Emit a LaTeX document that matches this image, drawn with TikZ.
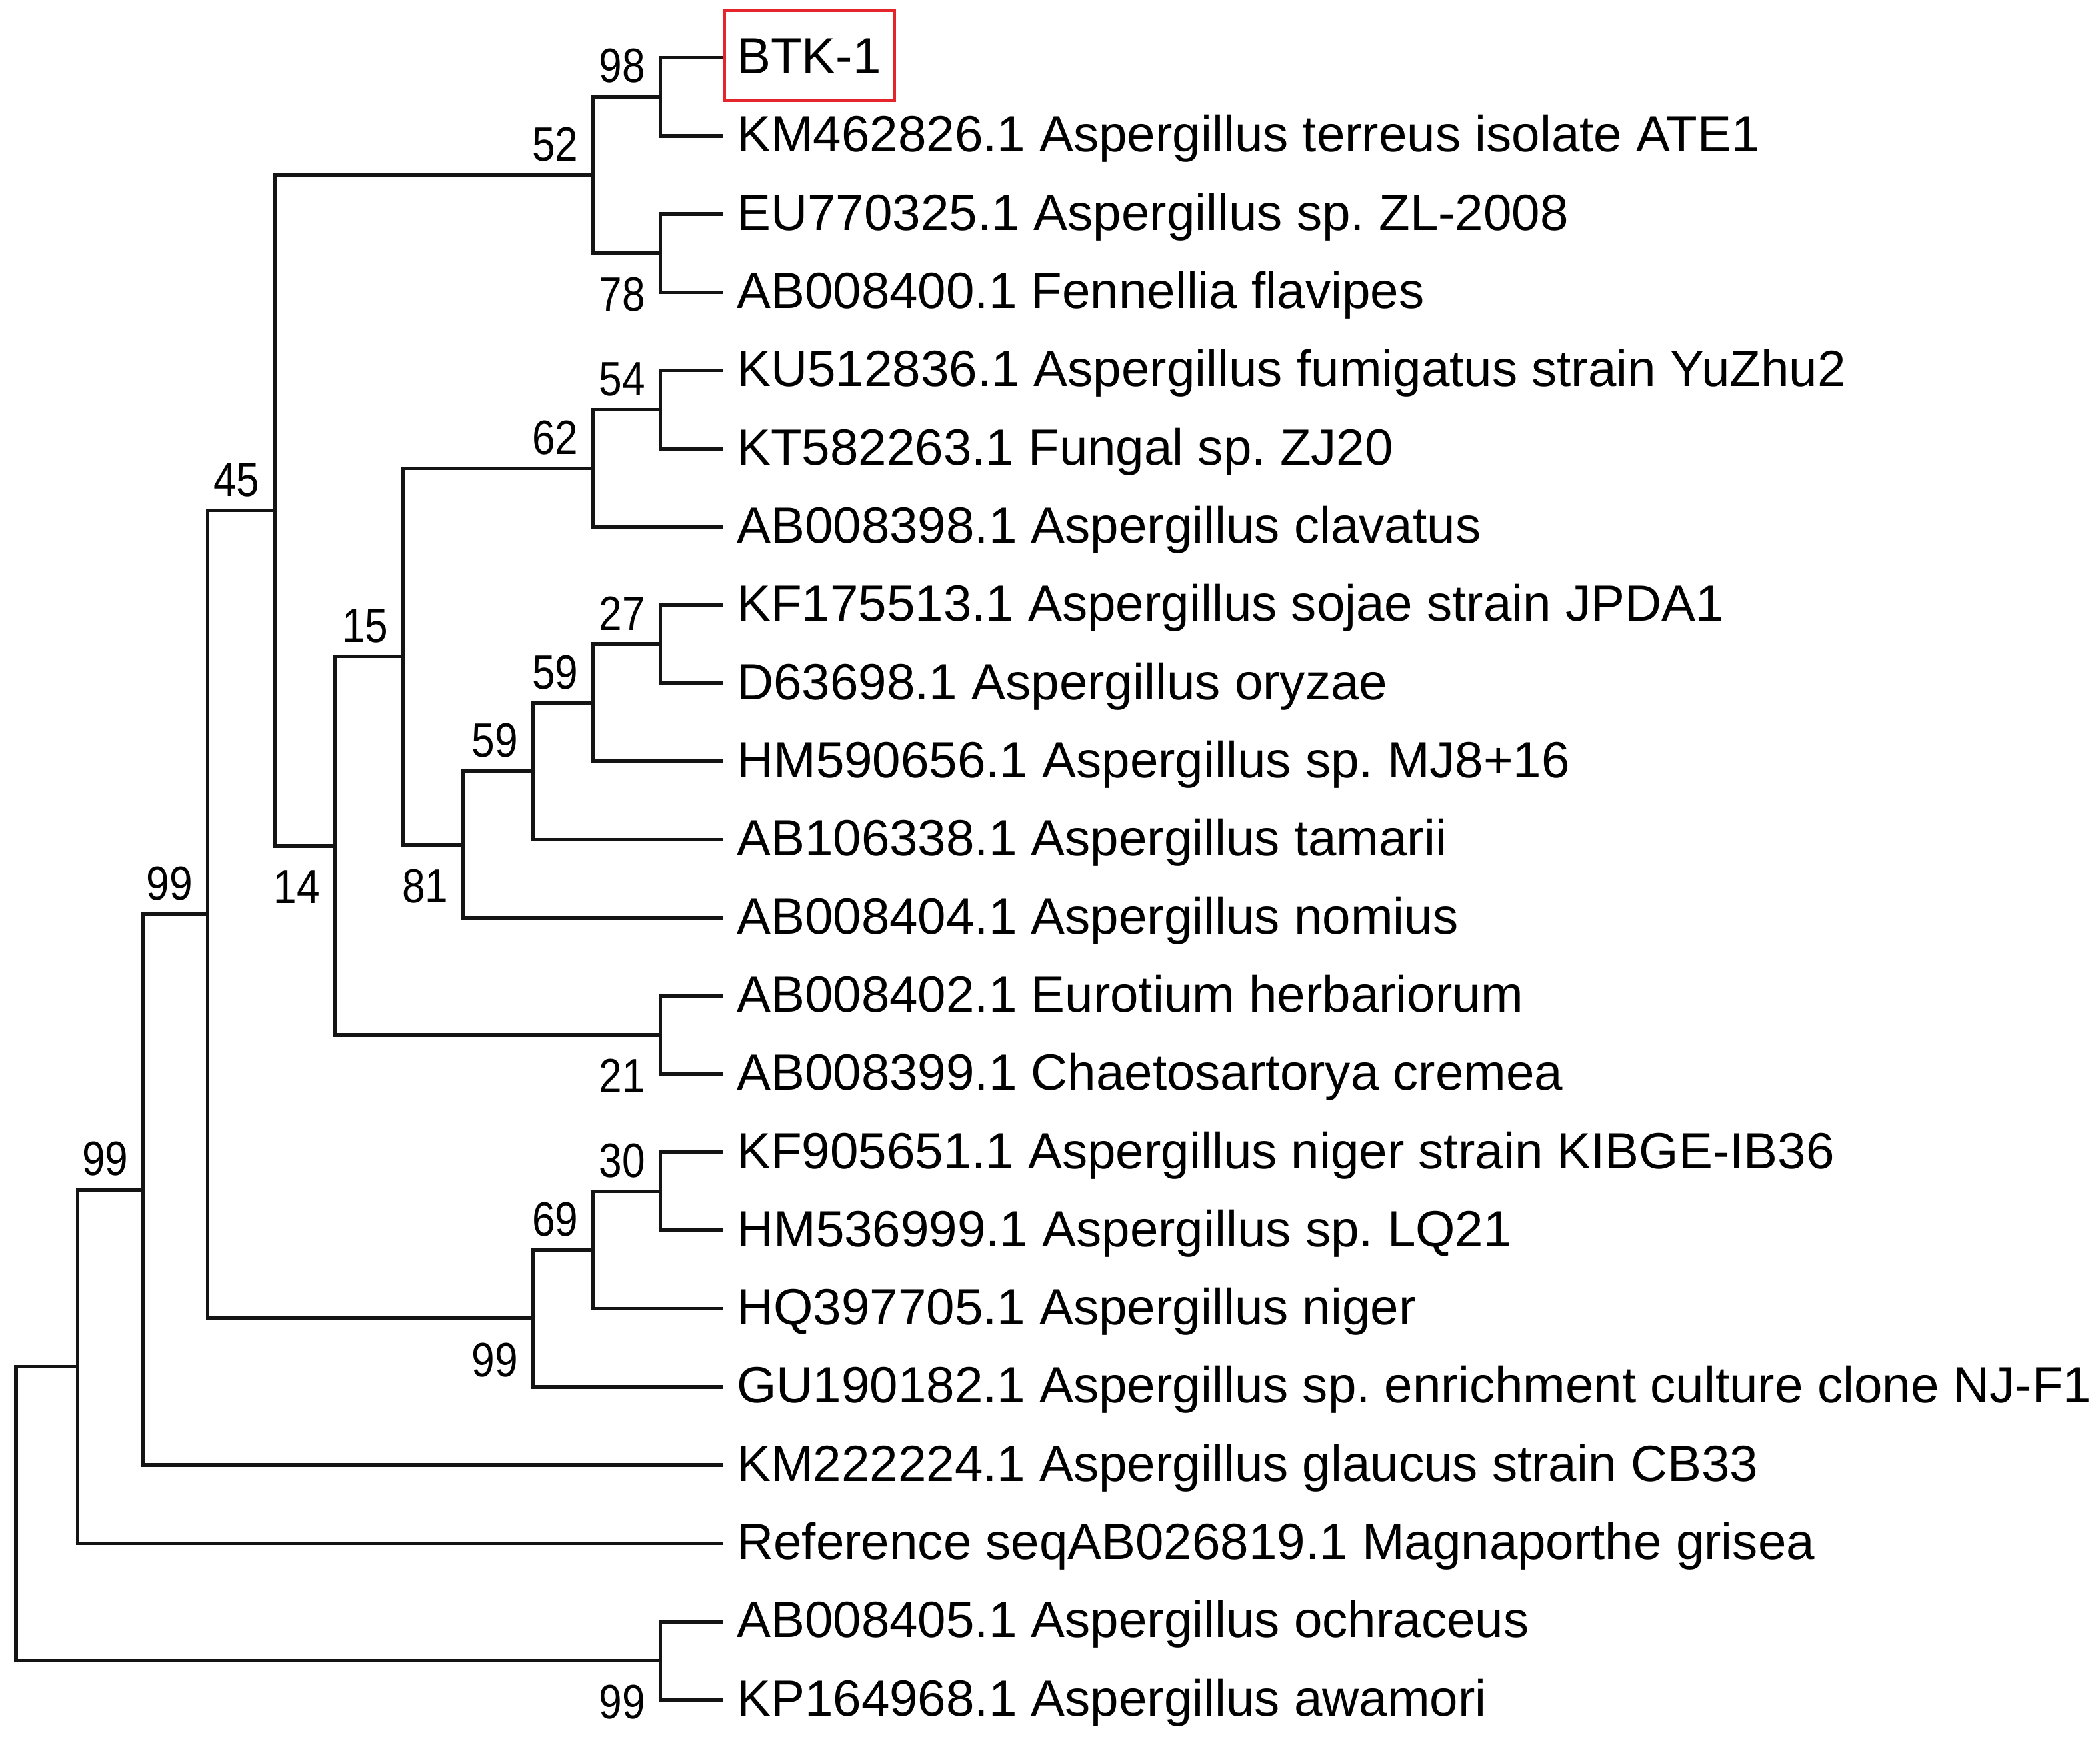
\documentclass[tikz,border=0pt]{standalone}
\usepackage{fontspec}
\setmainfont{Liberation Sans}
\newfontfamily\bsfont[FakeStretch=0.86]{Liberation Sans}
\usetikzlibrary{calc}
\definecolor{boxred}{RGB}{228,38,44}
\frenchspacing
\begin{document}
\frenchspacing
\begin{tikzpicture}[x=1pt,y=-1pt,
  br/.style={line width=2.8pt,draw=black!92},
  leaf/.style={anchor=base west,inner sep=0pt,font=\fontsize{38}{40}\selectfont},
  bsa/.style={anchor=south east,inner sep=0pt,font=\bsfont\fontsize{36}{38}\selectfont},
  bsb/.style={anchor=north east,inner sep=0pt,font=\bsfont\fontsize{36}{38}\selectfont}]
\useasboundingbox (0,0) rectangle (1568,1300);
% leaves
\foreach \t [count=\i] in {BTK-1,
  KM462826.1 Aspergillus terreus isolate ATE1,
  EU770325.1 Aspergillus sp. ZL-2008,
  AB008400.1 Fennellia flavipes,
  KU512836.1 Aspergillus fumigatus strain YuZhu2,
  KT582263.1 Fungal sp. ZJ20,
  AB008398.1 Aspergillus clavatus,
  KF175513.1 Aspergillus sojae strain JPDA1,
  D63698.1 Aspergillus oryzae,
  HM590656.1 Aspergillus sp. MJ8+16,
  AB106338.1 Aspergillus tamarii,
  AB008404.1 Aspergillus nomius,
  AB008402.1 Eurotium herbariorum,
  AB008399.1 Chaetosartorya cremea,
  KF905651.1 Aspergillus niger strain KIBGE-IB36,
  HM536999.1 Aspergillus sp. LQ21,
  HQ397705.1 Aspergillus niger,
  GU190182.1 Aspergillus sp. enrichment culture clone NJ-F1,
  KM222224.1 Aspergillus glaucus strain CB33,
  Reference seqAB026819.1 Magnaporthe grisea,
  AB008405.1 Aspergillus ochraceus,
  KP164968.1 Aspergillus awamori}{
  \coordinate (l\i) at (540,{43+(\i-1)*58.4});
  \node[leaf] (t\i) at ($(l\i)+(10,12)$) {\t};
}
\node[draw=boxred,line width=2.4pt,minimum width=127pt,minimum height=67pt,inner sep=0pt] (box) at (604.5,41.5) {};
% internal nodes
\coordinate (n98) at (493,72.2);
\coordinate (n78) at (493,189);
\coordinate (n52) at (443,130.6);
\coordinate (n54) at (493,305.8);
\coordinate (n62) at (443,349.6);
\coordinate (n27) at (493,481);
\coordinate (n59a) at (443,524.8);
\coordinate (n59b) at (398,575.9);
\coordinate (n81) at (346,630.65);
\coordinate (n15) at (301,490.1);
\coordinate (n21) at (493,773);
\coordinate (n14) at (250,631.55);
\coordinate (n45) at (205,381.1);
\coordinate (n30) at (493,889.8);
\coordinate (n69) at (443,933.6);
\coordinate (n99a) at (398,984.7);
\coordinate (n99b) at (155,682.9);
\coordinate (n99c) at (107,888.55);
\coordinate (n99d) at (58,1020.6);
\coordinate (n99e) at (493,1240.2);
\coordinate (root) at (12,1130.4);
% branches
\foreach \c/\p in {l1/n98,l2/n98,l3/n78,l4/n78,n98/n52,n78/n52,
  l5/n54,l6/n54,n54/n62,l7/n62,l8/n27,l9/n27,n27/n59a,l10/n59a,
  n59a/n59b,l11/n59b,n59b/n81,l12/n81,n62/n15,n81/n15,
  l13/n21,l14/n21,n15/n14,n21/n14,n52/n45,n14/n45,
  l15/n30,l16/n30,n30/n69,l17/n69,n69/n99a,l18/n99a,
  n45/n99b,n99a/n99b,n99b/n99c,l19/n99c,n99c/n99d,l20/n99d,
  l21/n99e,l22/n99e,n99d/root,n99e/root}{
  \draw[br] (\c) -| (\p);
}
% bootstrap values
\foreach \n/\v in {n98/98,n52/52,n54/54,n62/62,n27/27,n59a/59,n59b/59,n15/15,n45/45,n30/30,n69/69,n99b/99,n99c/99}{
  \node[bsa] (b\n) at ([xshift=-11pt,yshift=10pt]\n) {\v};
}
\foreach \n/\v in {n78/78,n81/81,n21/21,n14/14,n99a/99,n99e/99}{
  \node[bsb] (b\n) at ([xshift=-11pt,yshift=-18pt]\n) {\v};
}
\end{tikzpicture}
\end{document}
